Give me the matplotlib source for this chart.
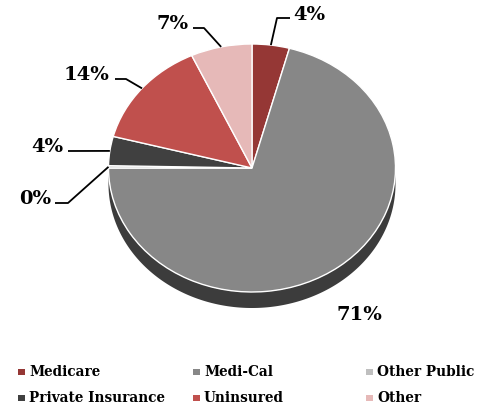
import matplotlib
matplotlib.use('Agg')
import matplotlib.pyplot as plt
from matplotlib.patches import Rectangle
import numpy as np

categories = ['Medicare', 'Medi-Cal', 'Other Public', 'Private Insurance', 'Uninsured', 'Other']
values = [4.2, 70.8, 0.3, 3.8, 14.0, 6.9]
colors = ['#953735', '#878787', '#BFBFBF', '#404040', '#C0504D', '#E6B9B8']

W, H = 485, 409
fig = plt.figure(figsize=(W / 100, H / 100), dpi=100)
ax = fig.add_axes([0, 0, 1, 1])

# pixel geometry of the pie ellipse
cx, cy, rx, ry = 252, 168, 143.5, 124
depth_px = 16


def p2d(px, py):
    return ((px - cx) / rx, (cy - py) / ry)


# side (3D depth) of the pie
d = depth_px / ry
t = np.linspace(np.pi, 2 * np.pi, 300)
xs = np.cos(t)
ys = np.sin(t)
ax.fill(np.concatenate([xs, xs[::-1]]), np.concatenate([ys, (ys - d)[::-1]]),
        color='#3c3c3c', zorder=0, lw=0)

wedges, _ = ax.pie(values, colors=colors, startangle=90, counterclock=False,
                   wedgeprops=dict(edgecolor='white', linewidth=1.0), frame=False)
for w in wedges:
    w.set_zorder(2)

ax.set_aspect('auto')
ax.set_xlim(-cx / rx, (W - cx) / rx)
ax.set_ylim(-(H - cy) / ry, cy / ry)
ax.axis('off')

label_font = dict(family='DejaVu Serif', weight='bold', size=14)
# leader layout in pixels: (path points after rim point, text x, text baseline y, ha)
layout = {
    'Medicare': ([(277, 18), (290, 18)], 293, 20, 'left'),
    'Medi-Cal': (None, 359, 320, 'center'),
    'Other Public': ([(68, 203), (55, 203)], 51, 204, 'right'),
    'Private Insurance': ([(68, 151)], 63, 152, 'right'),
    'Uninsured': ([(126, 79), (115, 79)], 109, 80, 'right'),
    'Other': ([(204, 28), (193, 28)], 189, 29, 'right'),
}
for w, cat, v in zip(wedges, categories, values):
    path, tx, ty, ha = layout[cat]
    if path is not None:
        mid = np.deg2rad((w.theta1 + w.theta2) / 2)
        pts = [(np.cos(mid), np.sin(mid))] + [p2d(*p) for p in path]
        ax.plot([p[0] for p in pts], [p[1] for p in pts], color='black', lw=1.3,
                zorder=3, solid_capstyle='butt')
    x, y = p2d(tx, ty)
    ax.text(x, y, f"{round(v)}%", ha=ha, va='baseline', **label_font, zorder=4)

# legend, row-major in three columns
col_marker_x = [18, 193, 366]
row_baseline_y = [376, 402]
for i, (cat, c) in enumerate(zip(categories, colors)):
    col, row = i % 3, i // 3
    mx = col_marker_x[col]
    by = row_baseline_y[row]
    fig.add_artist(Rectangle((mx / W, 1 - (by - 1) / H), 7 / W, 6 / H,
                             transform=fig.transFigure, color=c, lw=0))
    fig.text((mx + 11) / W, 1 - by / H, cat, ha='left', va='baseline',
             family='DejaVu Serif', weight='bold', size=9.8)

fig.savefig('out.png', dpi=100)
